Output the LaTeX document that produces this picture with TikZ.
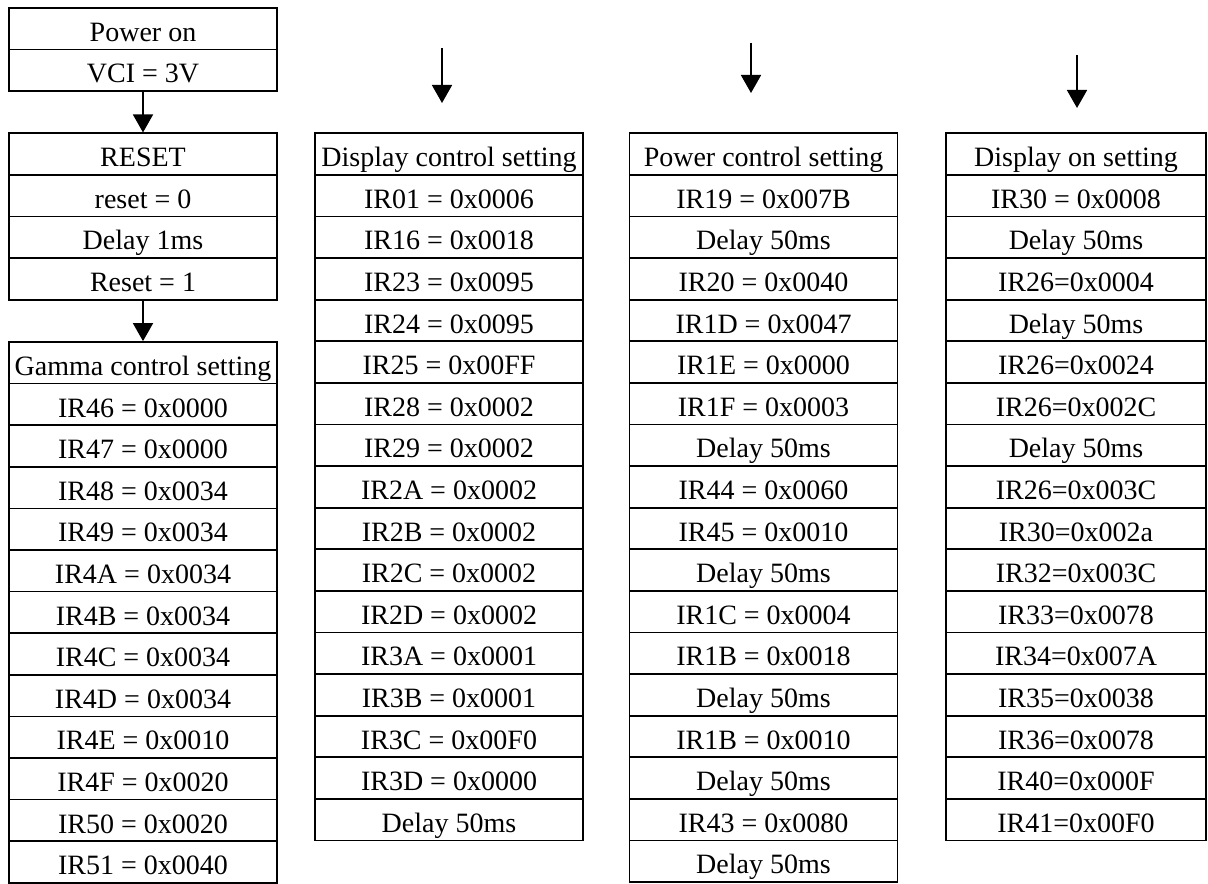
\documentclass[tikz,border=0pt]{standalone}
\usepackage{fontspec}
\setmainfont{Liberation Serif}
\usetikzlibrary{arrows.meta}

\tikzset{
	cell/.style={draw,line width=0.85pt,minimum width=134pt,minimum height=20.8pt,inner sep=0pt,text height=12.6pt,text depth=0pt,font=\fontsize{14}{16}\selectfont},
	flow/.style={line width=0.85pt,-{Triangle[width=10pt,length=9pt]}}
}

\begin{document}
\begin{tikzpicture}[x=0.5pt,y=-0.5pt]
		\useasboundingbox (0,0) rectangle (1208,883);
		
		% first column
		\foreach \t [count=\i] in {Power on,VCI = 3V}
			\node[cell] (pw-\i) at (143,{8+41.6*(\i-0.5)}) {\t};
		\foreach \t [count=\i] in {RESET,reset = 0,Delay 1ms,Reset = 1}
			\node[cell] (rs-\i) at (143,{133.3+41.6*(\i-0.5)}) {\t};
		\foreach \t [count=\i] in {Gamma control setting,IR46 = 0x0000,IR47 = 0x0000,IR48 = 0x0034,IR49 = 0x0034,IR4A = 0x0034,IR4B = 0x0034,IR4C = 0x0034,IR4D = 0x0034,IR4E = 0x0010,IR4F = 0x0020,IR50 = 0x0020,IR51 = 0x0040}
			\node[cell] (gm-\i) at (143,{342+41.6*(\i-0.5)}) {\t};
		\draw[flow] (pw-2.south) to (rs-1.north);
		\draw[flow] (rs-4.south) to (gm-1.north);
		
		% second column
		\coordinate (dc-in) at (442,48);
		\coordinate (dc-top) at (442,103);
		\draw[flow] (dc-in) to (dc-top);
		\foreach \t [count=\i] in {Display control setting,IR01 = 0x0006,IR16 = 0x0018,IR23 = 0x0095,IR24 = 0x0095,IR25 = 0x00FF,IR28 = 0x0002,IR29 = 0x0002,IR2A = 0x0002,IR2B = 0x0002,IR2C = 0x0002,IR2D = 0x0002,IR3A = 0x0001,IR3B = 0x0001,IR3C = 0x00F0,IR3D = 0x0000,Delay 50ms}
			\node[cell] (dc-\i) at (449,{133.3+41.6*(\i-0.5)}) {\t};
		
		% third column
		\coordinate (pc-in) at (751,43);
		\coordinate (pc-top) at (751,93);
		\draw[flow] (pc-in) to (pc-top);
		\foreach \t [count=\i] in {Power control setting,IR19 = 0x007B,Delay 50ms,IR20 = 0x0040,IR1D = 0x0047,IR1E = 0x0000,IR1F = 0x0003,Delay 50ms,IR44 = 0x0060,IR45 = 0x0010,Delay 50ms,IR1C = 0x0004,IR1B = 0x0018,Delay 50ms,IR1B = 0x0010,Delay 50ms,IR43 = 0x0080,Delay 50ms}
			\node[cell] (pc-\i) at (763.5,{133.3+41.6*(\i-0.5)}) {\t};
		
		% fourth column
		\coordinate (do-in) at (1077,55);
		\coordinate (do-top) at (1077,108);
		\draw[flow] (do-in) to (do-top);
		\foreach \t [count=\i] in {Display on setting,IR30 = 0x0008,Delay 50ms,IR26=0x0004,Delay 50ms,IR26=0x0024,IR26=0x002C,Delay 50ms,IR26=0x003C,IR30=0x002a,IR32=0x003C,IR33=0x0078,IR34=0x007A,IR35=0x0038,IR36=0x0078,IR40=0x000F,IR41=0x00F0}
			\node[cell,minimum width=130pt] (do-\i) at (1076,{133.3+41.6*(\i-0.5)}) {\t};
	\end{tikzpicture}
\end{document}
